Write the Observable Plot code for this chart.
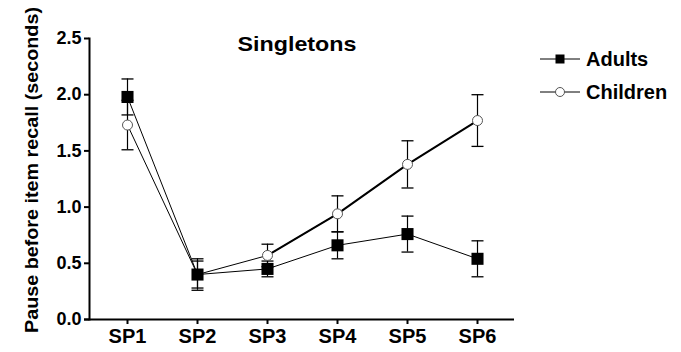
<!DOCTYPE html>
<html><head><meta charset="utf-8">
<script src="https://cdn.jsdelivr.net/npm/d3@7"></script>
<script src="https://cdn.jsdelivr.net/npm/@observablehq/plot@0.6"></script>
<style>body{margin:0;background:#fff} svg{display:block}</style>
</head><body><div id="chart"></div>
<script>
const categories = ["SP1","SP2","SP3","SP4","SP5","SP6"];
const adultsMean = [1.98, 0.40, 0.45, 0.66, 0.76, 0.54];
const adultsErr = [0.16, 0.12, 0.07, 0.12, 0.16, 0.16];
const childrenMean = [1.73, 0.40, 0.57, 0.94, 1.38, 1.77];
const childrenErr = [0.22, 0.14, 0.10, 0.16, 0.21, 0.23];
const yTicks = [0, 0.5, 1.0, 1.5, 2.0, 2.5];
const seriesNames = ["Adults", "Children"];
const titleText = "Singletons";
const yLabel = "Pause before item recall (seconds)";

const rows = categories.flatMap((c, i) => [
  {cat: c, i, group: seriesNames[0], mean: adultsMean[i], lo: adultsMean[i] - adultsErr[i], hi: adultsMean[i] + adultsErr[i]},
  {cat: c, i, group: seriesNames[1], mean: childrenMean[i], lo: childrenMean[i] - childrenErr[i], hi: childrenMean[i] + childrenErr[i]}
]);
const adults = rows.filter(d => d.group === seriesNames[0]);
const children = rows.filter(d => d.group === seriesNames[1]);

const cap = {draw(ctx) { ctx.moveTo(-6, 0); ctx.lineTo(6, 0); }};
const font = "'Liberation Sans', Arial, sans-serif";

const plot = Plot.plot({
  width: 681, height: 352,
  marginLeft: 89, marginRight: 167, marginTop: 38, marginBottom: 33,
  style: {fontFamily: font, background: "white", color: "black"},
  x: {type: "point", domain: categories, padding: 0.52},
  y: {domain: [0, 2.5]},
  marks: [
    Plot.ruleX(rows, {x: "cat", y1: "lo", y2: "hi", stroke: "black", strokeWidth: 1.2}),
    Plot.dot(rows, {x: "cat", y: "lo", symbol: cap, fill: "none", stroke: "black", strokeWidth: 1.3}),
    Plot.dot(rows, {x: "cat", y: "hi", symbol: cap, fill: "none", stroke: "black", strokeWidth: 1.3}),
    Plot.line(adults, {x: "cat", y: "mean", stroke: "black", strokeWidth: 1}),
    Plot.line(children, {x: "cat", y: "mean", stroke: "black", strokeWidth: 1}),
    Plot.line(children.filter(d => d.i >= 2), {x: "cat", y: "mean", stroke: "black", strokeWidth: 2}),
    Plot.dot(children, {x: "cat", y: "mean", r: 5, fill: "white", stroke: "#555", strokeWidth: 1}),
    Plot.dot(adults, {x: "cat", y: "mean", symbol: "square", r: 6.8, fill: "black", stroke: "none"}),
    Plot.axisY({ticks: yTicks, tickFormat: d3.format(".1f"), tickSize: 5, tickPadding: 3, fontSize: 18, fontWeight: "bold", label: null, strokeWidth: 2}),
    Plot.axisX({tickSize: 5, tickPadding: 4, fontSize: 20, fontWeight: "bold", label: null, strokeWidth: 2}),
    Plot.frame({anchor: "left", strokeWidth: 2}),
    Plot.ruleY([0], {strokeWidth: 2, insetLeft: -5})
  ]
});

const svg = d3.select(plot);
svg.append("text")
  .attr("x", 297).attr("y", 51)
  .attr("text-anchor", "middle")
  .attr("font-family", font).attr("font-weight", "bold").attr("font-size", 21)
  .attr("textLength", 119).attr("lengthAdjust", "spacingAndGlyphs")
  .text(titleText);
svg.append("text")
  .attr("transform", "translate(38,170) rotate(-90)")
  .attr("text-anchor", "middle")
  .attr("font-family", font).attr("font-weight", "bold").attr("font-size", 19)
  .attr("textLength", 326).attr("lengthAdjust", "spacingAndGlyphs")
  .text(yLabel);

const legend = svg.append("g");
[[59, "square"], [92, "circle"]].forEach(([y, sym], k) => {
  legend.append("line").attr("x1", 540).attr("x2", 580).attr("y1", y).attr("y2", y)
    .attr("stroke", "black").attr("stroke-width", 1);
  if (sym === "square") {
    legend.append("rect").attr("x", 555.5).attr("y", y - 4.5).attr("width", 9).attr("height", 9).attr("fill", "black");
  } else {
    legend.append("circle").attr("cx", 560).attr("cy", y).attr("r", 4.5).attr("fill", "white").attr("stroke", "#555");
  }
  legend.append("text").attr("x", 586).attr("y", y).attr("dy", "0.36em")
    .attr("text-anchor", "start")
    .attr("font-family", font).attr("font-weight", "bold").attr("font-size", 20)
    .text(seriesNames[k]);
});

document.getElementById("chart").appendChild(plot);
</script>
</body></html>
